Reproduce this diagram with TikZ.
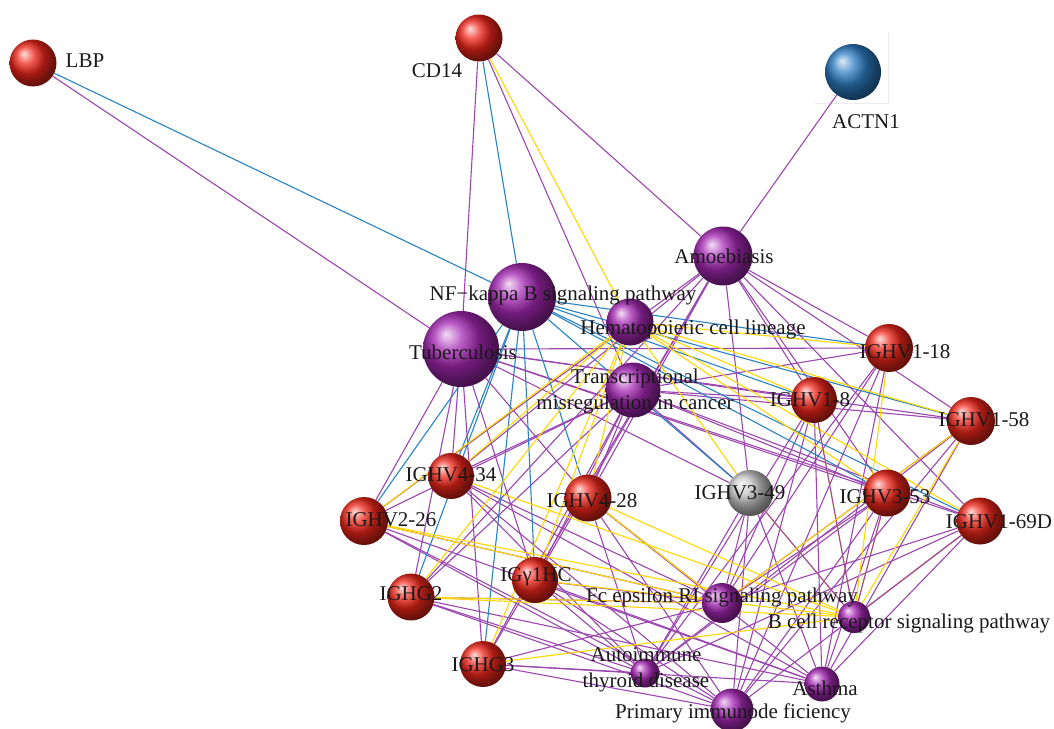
\documentclass[tikz,border=0pt]{standalone}
\usepackage{fontspec}
\setmainfont{Liberation Serif}
\pgfdeclarelayer{bg}
\pgfsetlayers{bg,main}
\definecolor{epurple}{RGB}{155,70,175}
\definecolor{eblue}{RGB}{40,130,195}
\definecolor{eyellow}{RGB}{255,215,0}
\definecolor{bred}{RGB}{238,38,26}
\definecolor{bpurple}{RGB}{165,40,180}
\definecolor{bblue}{RGB}{45,125,195}
\definecolor{bgrey}{RGB}{200,200,200}
\begin{document}
\begin{tikzpicture}[x=1pt,y=-1pt,
  gnode/.style={circle,inner sep=0pt,minimum size=#1},
  rb/.style={gnode=#1,ball color=bred},
  pb/.style={gnode=#1,ball color=bpurple},
  bb/.style={gnode=#1,ball color=bblue},
  gb/.style={gnode=#1,ball color=bgrey},
  lab/.style={inner sep=0pt,text=black!90,font=\fontsize{21}{26}\selectfont,align=center},
  pe/.style={draw=epurple,line width=1.1pt},
  be/.style={draw=eblue,line width=1.1pt},
  ye/.style={draw=eyellow,line width=1.1pt}]
\useasboundingbox (0,0) rectangle (1054,728);
% balls
\node[rb=47] (lbp) at (33,63) {};
\node[rb=47] (cd14) at (479,38) {};
\node[bb=56] (actn1) at (853,72) {};
\node[pb=59] (amo) at (723,256) {};
\node[pb=68] (nfkb) at (522,297) {};
\node[pb=76] (tb) at (461,349) {};
\node[pb=47] (hem) at (630,322) {};
\node[pb=55] (trans) at (633,390) {};
\node[rb=48] (v118) at (889,348) {};
\node[rb=46] (v18) at (814,400) {};
\node[rb=48] (v158) at (971,421) {};
\node[rb=47] (v353) at (887,493) {};
\node[rb=47] (v169d) at (980,521) {};
\node[gb=46] (v349) at (750,493) {};
\node[rb=46] (v434) at (451,476) {};
\node[rb=48] (v226) at (364,521) {};
\node[rb=47] (v428) at (588,498) {};
\node[rb=47] (g2) at (411,597) {};
\node[rb=46] (g1) at (535,580) {};
\node[rb=46] (g3) at (483,664) {};
\node[pb=40] (fce) at (722,603) {};
\node[pb=32] (bcr) at (854,617) {};
\node[pb=29] (ait) at (645,673) {};
\node[pb=35] (ast) at (822,684) {};
\node[pb=43] (pid) at (732,710) {};
% edges
\begin{pgfonlayer}{bg}
\draw[gray!15,line width=0.8pt] (888,32) -- (888,103) -- (815,103);
\draw[be] (lbp) -- (nfkb);
\draw[pe] (lbp) -- (tb);
\draw[pe] (cd14) -- (tb);
\draw[be] (cd14) -- (nfkb);
\draw[ye] (cd14) -- (hem);
\draw[pe] (cd14) -- (trans);
\draw[pe] (cd14) -- (amo);
\draw[pe] (actn1) -- (amo);
\foreach \g in {v118,v18,v158,v353,v169d,v349,v434,v226,v428,g2,g1,g3}{
  \draw[pe] (\g) -- (amo);
  \draw[pe] (\g) -- (tb);
  \draw[pe] (\g) -- (trans);
  \draw[pe] (\g) -- (fce);
  \draw[pe] (\g) -- (ait);
  \draw[pe] (\g) -- (ast);
  \draw[pe] (\g) -- (pid);
  \draw[be] (\g) -- (nfkb);
}
\foreach \g in {v118,v18,v158,v353,v169d,v349,v434,v226,v428,g2,g1,g3}{
  \draw[ye] (\g) -- (hem);
  \draw[ye] (\g) -- (bcr);
}
\foreach \g in {v18,v353,v169d,v349}{
  \draw[pe] (\g) -- (bcr);
}
\foreach \g in {v226,g2,v428,v158}{
  \draw[ye] (\g) -- (fce);
}
\end{pgfonlayer}
% labels
\node[lab] (lbpL) at (85,61) {LBP};
\node[lab] (cd14L) at (437,71) {CD14};
\node[lab] (actn1L) at (866,122) {ACTN1};
\node[lab] (amoL) at (724,256) {Amoebiasis};
\node[lab] (nfkbL) at (563,295) {NF−kappa B signaling pathway};
\node[lab] (tbL) at (463,352) {Tuberculosis};
\node[lab] (hemL) at (693,329) {Hematopoietic cell lineage};
\node[lab] (transL) at (635,391) {Transcriptional\\misregulation in cancer};
\node[lab] (v118L) at (905,352) {IGHV1-18};
\node[lab] (v18L) at (810,400) {IGHV1-8};
\node[lab] (v158L) at (984,420) {IGHV1-58};
\node[lab] (v353L) at (885,497) {IGHV3-53};
\node[lab] (v169dL) at (999,522) {IGHV1-69D};
\node[lab] (v349L) at (740,493) {IGHV3-49};
\node[lab] (v434L) at (451,475) {IGHV4-34};
\node[lab] (v226L) at (391,520) {IGHV2-26};
\node[lab] (v428L) at (592,501) {IGHV4-28};
\node[lab] (g2L) at (411,594) {IGHG2};
\node[lab] (g1L) at (536,577) {IGγ1HC};
\node[lab] (g3L) at (483,665) {IGHG3};
\node[lab] (fceL) at (722,597) {Fc epsilon RI signaling pathway};
\node[lab] (bcrL) at (909,623) {B cell receptor signaling pathway};
\node[lab] (aitL) at (646,670) {Autoimmune\\thyroid disease};
\node[lab] (astL) at (825,688) {Asthma};
\node[lab] (pidL) at (733,713) {Primary immunode ficiency};
\end{tikzpicture}
\end{document}
